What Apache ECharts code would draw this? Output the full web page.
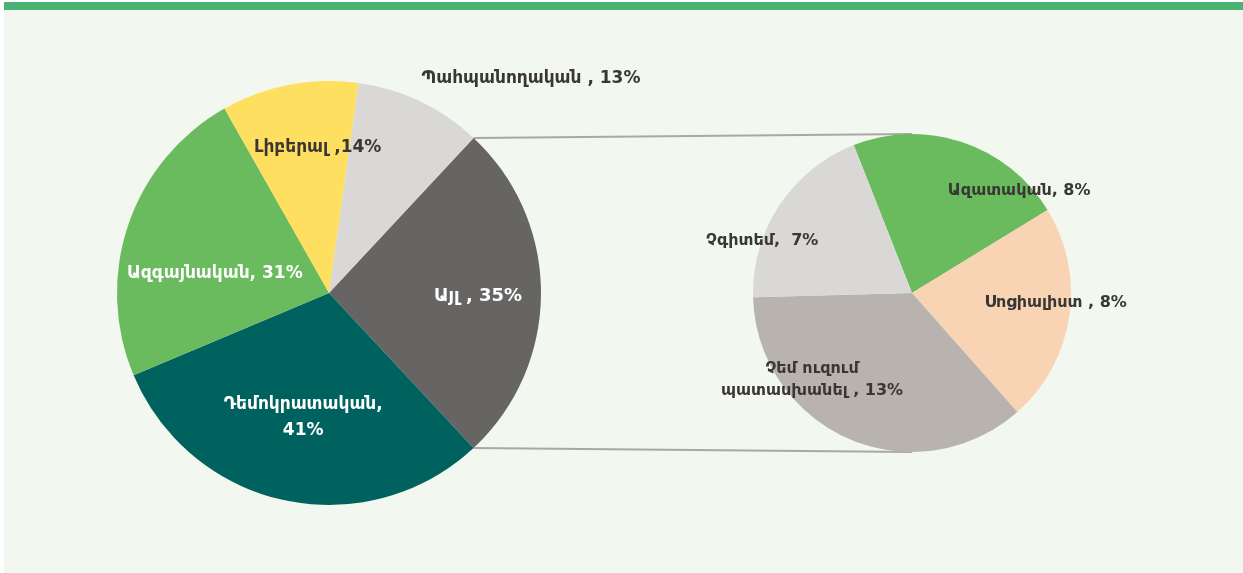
<!DOCTYPE html>
<html>
<head>
<meta charset="utf-8">
<script src="https://cdn.jsdelivr.net/npm/echarts@6/dist/echarts.min.js"></script>
<style>
    html, body { margin: 0; padding: 0; background: #fff; }
    #chart { position: absolute; left: 4px; top: 2px; width: 1239px; height: 571px; }
</style>
</head>
<body>
<div id="chart"></div>
<script>
// main pie
var mainNames = ['Այլ', 'Դեմոկրատական', 'Ազգայնական', 'Լիբերալ', 'Պահպանողական'];
var mainValues = [35, 41, 31, 14, 13];
var mainSeps = [' , ', ',\n', ', ', ' ,', ' , '];
var mainColors = ['#676563', '#00625f', '#6aba5e', '#ffdf5f', '#d9d8d6'];
var mainLabelColors = ['#fff', '#fff', '#fff', '#3a3634', '#3a3634'];
var mainFontSizes = [18, 17, 17, 17, 17];
var mainOffsets = [[40, 3], [-3, 18], [-11, 16], [9, -38], [155, -116]];

// breakdown of "Այլ"
var subNames = ['Ազատական', 'Սոցիալիստ', 'Չեմ ուզում\nպատասխանել', 'Չգիտեմ'];
var subValues = [8, 8, 13, 7];
var subSeps = [', ', ' , ', ' , ', ',  '];
var subColors = ['#6aba5e', '#f8d4b4', '#b8b3af', '#d9d8d6'];
var subOffsets = [[81, -24], [62, -2], [-67, 11], [-81, -7]];

var FONT = "'DejaVu Sans', 'Noto Sans', sans-serif";
var mainCenter = [325, 291], mainR = 212;
var subCenter = [908, 291], subR = 159;

function sum(arr) {
    var s = 0;
    arr.forEach(function (v) { s += v; });
    return s;
}

// first slice centred on the right side
var mainStart = mainValues[0] / sum(mainValues) * 180;
var subStart = 111.5;

function buildData(names, values, seps, colors, labelColors, sizes) {
    return names.map(function (n, i) {
        return {
            name: n,
            value: values[i],
            itemStyle: { color: colors[i] },
            label: {
                formatter: n + seps[i] + values[i] + '%',
                color: labelColors ? labelColors[i] : '#3a3634',
                fontSize: sizes ? sizes[i] : 16
            }
        };
    });
}

var chart = echarts.init(document.getElementById('chart'));

var rad = mainStart * Math.PI / 180;
var p1 = [mainCenter[0] + mainR * Math.cos(rad), mainCenter[1] - mainR * Math.sin(rad)];
var p2 = [p1[0], mainCenter[1] + mainR * Math.sin(rad)];

var option = {
    backgroundColor: '#f2f7ef',
    animation: false,
    graphic: [
        { type: 'rect', left: 0, top: 0, shape: { width: 1239, height: 8 }, style: { fill: '#4ab272' } },
        { type: 'line', z: -1, shape: { x1: p1[0], y1: p1[1], x2: subCenter[0], y2: subCenter[1] - subR },
          style: { stroke: '#aaa8a4', lineWidth: 2 } },
        { type: 'line', z: -1, shape: { x1: p2[0], y1: p2[1], x2: subCenter[0], y2: subCenter[1] + subR },
          style: { stroke: '#aaa8a4', lineWidth: 2 } }
    ],
    series: [
        {
            type: 'pie',
            center: mainCenter,
            radius: mainR,
            startAngle: mainStart,
            clockwise: true,
            emphasis: { disabled: true },
            label: {
                position: 'inside',
                fontFamily: FONT,
                fontWeight: 'bold',
                lineHeight: 26
            },
            labelLine: { show: false },
            labelLayout: function (p) {
                var o = mainOffsets[p.dataIndex];
                return { dx: o[0], dy: o[1] };
            },
            data: buildData(mainNames, mainValues, mainSeps, mainColors, mainLabelColors, mainFontSizes)
        },
        {
            type: 'pie',
            center: subCenter,
            radius: subR,
            startAngle: subStart,
            clockwise: true,
            emphasis: { disabled: true },
            label: {
                position: 'inside',
                fontFamily: FONT,
                fontWeight: 'bold',
                lineHeight: 22
            },
            labelLine: { show: false },
            labelLayout: function (p) {
                var o = subOffsets[p.dataIndex];
                return { dx: o[0], dy: o[1] };
            },
            data: buildData(subNames, subValues, subSeps, subColors, null, null)
        }
    ]
};

chart.setOption(option);
</script>
</body>
</html>
